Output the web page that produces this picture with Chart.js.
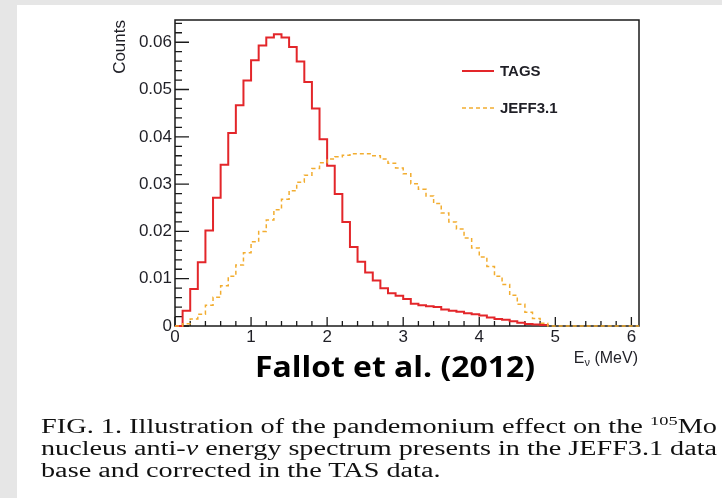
<!DOCTYPE html>
<html><head><meta charset="utf-8">
<script src="https://cdn.jsdelivr.net/npm/chart.js@4.4.1/dist/chart.umd.min.js"></script>
<style>
html,body{margin:0;padding:0;width:722px;height:498px;overflow:hidden;background:#e6e6e6;}
#panel{position:absolute;left:17px;top:5px;width:705px;height:493px;background:#fff;}
#cv{position:absolute;left:0;top:0;}
#fallot{position:absolute;left:255px;top:347px;font:bold 28px "Open Sans",sans-serif;color:#000;white-space:nowrap;transform-origin:0 0;}
.cap{position:absolute;left:41px;font:20px "Liberation Serif",serif;color:#111;white-space:nowrap;transform-origin:0 0;}
.sup{font-size:13px;position:relative;top:-8px;}
</style></head>
<body>
<div id="panel"></div>
<canvas id="cv" width="722" height="498"></canvas>
<div id="fallot">Fallot et al. (2012)</div>
<div class="cap" id="c1" style="top:415px">FIG. 1. Illustration of the pandemonium effect on the <span class="sup">105</span>Mo</div>
<div class="cap" id="c2" style="top:437px">nucleus anti-<i>ν</i> energy spectrum presents in the JEFF3.1 data</div>
<div class="cap" id="c3" style="top:459px">base and corrected in the TAS data.</div>
<script>
// ---- data (bin lower edges in MeV, bin width 0.1) ----
const binEdges = [0.0,0.1,0.2,0.3,0.4,0.5,0.6,0.7,0.8,0.9,1.0,1.1,1.2,1.3,1.4,1.5,1.6,1.7,1.8,1.9,2.0,
  2.1,2.2,2.3,2.4,2.5,2.6,2.7,2.8,2.9,3.0,3.1,3.2,3.3,3.4,3.5,3.6,3.7,3.8,3.9,4.0,
  4.1,4.2,4.3,4.4,4.5,4.6,4.7,4.8,4.9,5.0,5.1,5.2,5.3,5.4,5.5,5.6,5.7,5.8,5.9,6.0,6.1];
const tagsCounts = [0,0.0032,0.0078,0.0135,0.0202,0.0271,0.0341,0.0408,0.0467,0.0519,
  0.0562,0.0593,0.0610,0.0617,0.0610,0.0590,0.0559,0.0516,0.0460,0.0395,
  0.0339,0.0279,0.0220,0.0167,0.0136,0.0113,0.0096,0.0080,0.0069,0.0064,
  0.0057,0.0047,0.0044,0.0042,0.0040,0.0035,0.0032,0.0030,0.0027,0.0025,
  0.0022,0.0018,0.0015,0.0013,0.0010,0.0007,0.0004,0.0003,0.0002];
const jeffCounts = [0,0.0005,0.0015,0.0025,0.0044,0.0061,0.0085,0.0105,0.0129,0.0155,
  0.0178,0.0200,0.0224,0.0246,0.0268,0.0286,0.0304,0.0319,0.0333,0.0345,
  0.0353,0.0358,0.0361,0.0364,0.0364,0.0364,0.0360,0.0353,0.0344,0.0334,
  0.0322,0.0301,0.0289,0.0275,0.0259,0.0239,0.0220,0.0205,0.0186,0.0165,
  0.0146,0.0126,0.0105,0.0088,0.0065,0.0046,0.0029,0.0016,0.0006,0,
  0,0,0,0,0,0,0,0,0,0,0];
const seriesNames = ['TAGS','JEFF3.1'];
const xTickLabels = [0,1,2,3,4,5,6];
const yTickLabels = [0,0.01,0.02,0.03,0.04,0.05,0.06];
const xTitleMain = 'E', xTitleSub = 'ν', xTitleRest = ' (MeV)';
const yTitle = 'Counts';

function makeHist(vals){
  const pts = vals.map((v,i)=>({x:binEdges[i], y:v}));
  pts.push({x:binEdges[vals.length], y:0});
  return pts;
}
const FONT = '"Liberation Sans", Arial, sans-serif';
const TXT = '#1f1f26';

const framePlugin = {
  id:'frame',
  beforeDatasetsDraw(chart){
    const {ctx, chartArea:a, scales:{x,y}} = chart;
    ctx.save();
    ctx.strokeStyle = '#1a1a1a';
    ctx.lineWidth = 1.5;
    ctx.strokeRect(a.left, a.top, a.right-a.left, a.bottom-a.top);
    ctx.lineWidth = 1.3;
    ctx.beginPath();
    for(let k=0;k<=32;k++){
      const v = k*0.002, py = y.getPixelForValue(v);
      if(py < a.top) break;
      const len = (k%5===0)?14:7;
      ctx.moveTo(a.left, py); ctx.lineTo(a.left+len, py);
    }
    for(let k=0;k<=30;k++){
      const v = k*0.2, px = x.getPixelForValue(v);
      const len = (k%5===0)?9:5;
      ctx.moveTo(px, a.bottom); ctx.lineTo(px, a.bottom-len);
    }
    ctx.stroke();
    ctx.restore();
  },
  afterDraw(chart){
    const {ctx, chartArea:a} = chart;
    ctx.save();
    // legend
    const ds = chart.data.datasets;
    const rows = [71, 108];
    ds.forEach((d,i)=>{
      ctx.strokeStyle = d.borderColor; ctx.lineWidth = d.borderWidth;
      ctx.setLineDash(d.borderDash||[]);
      ctx.beginPath(); ctx.moveTo(462, rows[i]); ctx.lineTo(494, rows[i]); ctx.stroke();
      ctx.setLineDash([]);
      ctx.fillStyle = TXT; ctx.font = 'bold 15px '+FONT; ctx.textBaseline='middle'; ctx.textAlign='left';
      ctx.fillText(d.label, 500, rows[i]+1);
    });
    // x axis title with subscript
    ctx.fillStyle = TXT; ctx.textBaseline='alphabetic'; ctx.textAlign='left';
    const fM = '16px '+FONT, fS = '11px '+FONT;
    ctx.font = fM; const wE = ctx.measureText(xTitleMain).width, wR = ctx.measureText(xTitleRest).width;
    ctx.font = fS; const wS = ctx.measureText(xTitleSub).width;
    const right = a.right - 1, base = 363;
    let xx = right - wR - wS - wE;
    ctx.font = fM; ctx.fillText(xTitleMain, xx, base); xx += wE;
    ctx.font = fS; ctx.fillText(xTitleSub, xx, base+3); xx += wS;
    ctx.font = fM; ctx.fillText(xTitleRest, xx, base);
    ctx.restore();
  }
};

new Chart(document.getElementById('cv'), {
  type:'line',
  data:{datasets:[
    {label:seriesNames[0], data:makeHist(tagsCounts), borderColor:'#e3262a', borderWidth:2,
     stepped:'before', pointRadius:0, fill:false, order:1, clip:4},
    {label:seriesNames[1], data:makeHist(jeffCounts), borderColor:'#f2ad30', borderWidth:1.5, borderDash:[4,3],
     stepped:'before', pointRadius:0, fill:false, order:0, clip:4}
  ]},
  options:{
    responsive:false, animation:false, devicePixelRatio:1,
    layout:{padding:{left:0, top:20, right:83, bottom:132}},
    plugins:{legend:{display:false}, tooltip:{enabled:false}},
    scales:{
      x:{type:'linear', min:0, max:6.1,
        grid:{display:false, drawTicks:false}, border:{display:false},
        afterBuildTicks:s=>{ s.ticks = xTickLabels.map(v=>({value:v})); },
        afterFit:s=>{ s.height = 40; },
        ticks:{font:{family:FONT, size:17}, color:TXT, padding:1, maxRotation:0, autoSkip:false,
          callback:v=>String(v)}},
      y:{type:'linear', min:0, max:0.0647,
        grid:{display:false, drawTicks:false}, border:{display:false},
        afterBuildTicks:s=>{ s.ticks = yTickLabels.map(v=>({value:v})); },
        afterFit:s=>{ s.width = 175; },
        title:{display:true, text:yTitle, align:'end', font:{family:FONT, size:17}, color:TXT, padding:{top:110, bottom:0}},
        ticks:{font:{family:FONT, size:17}, color:TXT, padding:3, autoSkip:false,
          callback:v=> v===0 ? '0' : v.toFixed(2)}}
    }
  },
  plugins:[framePlugin]
});

// fit text widths to the reference layout
function natW(el){ el.style.transform='none'; return el.getBoundingClientRect().width; }
const fal = document.getElementById('fallot');
fal.style.transform = 'scaleX('+(280/natW(fal))+')';
const c1 = document.getElementById('c1'), c2 = document.getElementById('c2'), c3 = document.getElementById('c3');
const s1 = 676/natW(c1), s2 = 676/natW(c2);
c1.style.transform = 'scaleX('+s1+')';
c2.style.transform = 'scaleX('+s2+')';
natW(c3); c3.style.transform = 'scaleX('+((s1+s2)/2)+')';
</script>
</body></html>
